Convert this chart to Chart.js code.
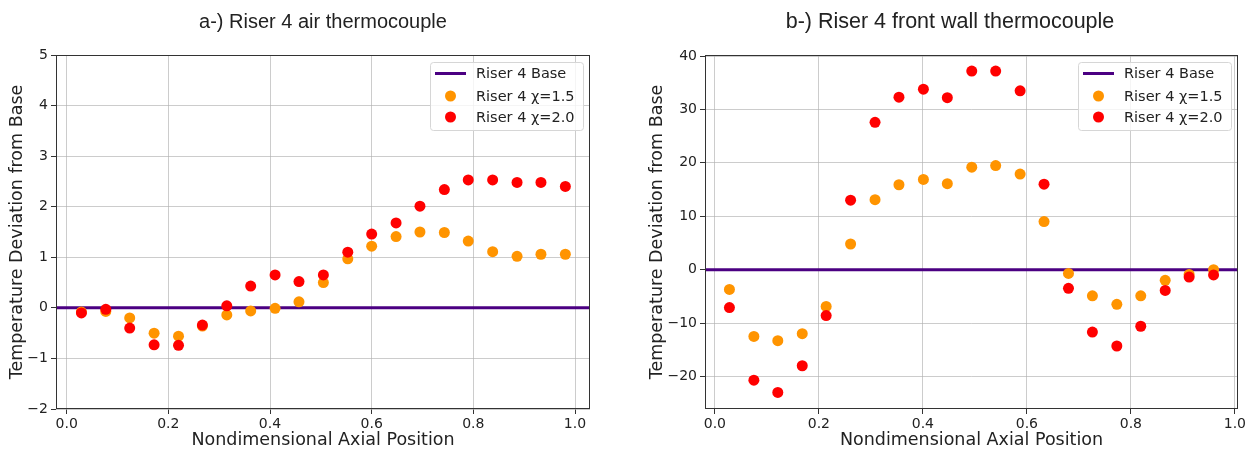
<!DOCTYPE html>
<html>
<head>
<meta charset="utf-8">
<script src="https://cdn.jsdelivr.net/npm/chart.js@4.4.0/dist/chart.umd.min.js"></script>
<style>
body { margin: 0; background: #fff; width: 1254px; height: 450px; overflow: hidden; position: relative; }
canvas { position: absolute; top: 0; }
#graficoA { left: 0; }
#graficoB { left: 646px; }
</style>
</head>
<body>
<canvas id="graficoA" width="646" height="450"></canvas>
<canvas id="graficoB" width="608" height="450"></canvas>
<script>
// a-) air thermocouple
const xPosA = [0.029, 0.077, 0.124, 0.172, 0.220, 0.267, 0.315, 0.362, 0.410, 0.457, 0.505,
               0.553, 0.600, 0.648, 0.695, 0.743, 0.790, 0.838, 0.886, 0.933, 0.981];
const air15 = [-0.08, -0.07, -0.20, -0.50, -0.56, -0.36, -0.14, -0.06, -0.01, 0.12, 0.50,
               0.97, 1.22, 1.41, 1.50, 1.49, 1.32, 1.11, 1.02, 1.06, 1.06];
const air20 = [-0.10, -0.03, -0.40, -0.73, -0.74, -0.34, 0.04, 0.43, 0.65, 0.52, 0.65,
               1.10, 1.46, 1.68, 2.01, 2.34, 2.53, 2.53, 2.48, 2.48, 2.40];

// b-) front wall thermocouple
const xPosB = [0.028, 0.075, 0.121, 0.168, 0.214, 0.261, 0.308, 0.354, 0.401, 0.447, 0.494,
               0.540, 0.587, 0.633, 0.680, 0.726, 0.773, 0.819, 0.866, 0.912, 0.959];
const wall15 = [-3.7, -12.5, -13.3, -12.0, -6.9, 4.8, 13.1, 15.9, 16.9, 16.1, 19.2,
                19.5, 17.9, 9.0, -0.7, -4.9, -6.5, -4.9, -2.0, -0.9, 0.0];
const wall20 = [-7.1, -20.7, -23.0, -18.0, -8.6, 13.0, 27.6, 32.3, 33.8, 32.2, 37.2,
                37.2, 33.5, 16.0, -3.5, -11.7, -14.3, -10.6, -3.9, -1.4, -1.0];

const baseValue = 0;

const xTicks = [0.0, 0.2, 0.4, 0.6, 0.8, 1.0];
const yTicksA = [-2, -1, 0, 1, 2, 3, 4, 5];
const yTicksB = [-20, -10, 0, 10, 20, 30, 40];

const nomes = ["Riser 4 Base", "Riser 4 χ=1.5", "Riser 4 χ=2.0"];
const cores = ["#4b0082", "#ff9400", "#ff0000"];

function pontos(xs, ys) {
    return xs.map((x, i) => ({ x: x, y: ys[i] }));
}

function menos(v) {
    return v < 0 ? "\u2212" + Math.abs(v) : String(v);
}

// caixa em volta da área do gráfico
const moldura = {
    id: "moldura",
    afterDatasetsDraw(chart) {
        const a = chart.chartArea;
        const ctx = chart.ctx;
        ctx.save();
        ctx.strokeStyle = "#333";
        ctx.lineWidth = 1;
        ctx.strokeRect(Math.round(a.left) + 0.5, Math.round(a.top) + 0.5,
                       Math.round(a.right - a.left) - 1, Math.round(a.bottom - a.top) - 1);
        ctx.restore();
    }
};

// legenda no canto superior direito, dentro da área
const legendaDentro = {
    id: "legendaDentro",
    afterDraw(chart) {
        const a = chart.chartArea;
        const ctx = chart.ctx;
        const w = 153, h = 68;
        const x0 = a.right - 7 - w;
        const y0 = a.top + 7;
        ctx.save();
        ctx.fillStyle = "rgba(255,255,255,0.8)";
        ctx.strokeStyle = "#d6d6d6";
        ctx.lineWidth = 1;
        ctx.beginPath();
        ctx.roundRect(x0 + 0.5, y0 + 0.5, w, h, 3);
        ctx.fill();
        ctx.stroke();

        const linhas = [11.5, 34, 55];
        chart.data.datasets.forEach((ds, i) => {
            const y = y0 + linhas[i];
            if (ds.type === "line") {
                ctx.strokeStyle = ds.borderColor;
                ctx.lineWidth = 3;
                ctx.beginPath();
                ctx.moveTo(x0 + 5, y);
                ctx.lineTo(x0 + 36, y);
                ctx.stroke();
            } else {
                ctx.fillStyle = ds.backgroundColor;
                ctx.beginPath();
                ctx.arc(x0 + 20.5, y, 5.5, 0, Math.PI * 2);
                ctx.fill();
            }
            ctx.fillStyle = "#222";
            ctx.font = '14.5px "DejaVu Sans"';
            ctx.textBaseline = "middle";
            ctx.fillText(ds.label, x0 + 46, y + 1);
        });
        ctx.restore();
    }
};

function criarGrafico(id, titulo, tamTitulo, xs, s15, s20, xmin, xmax, ymin, ymax, yTicks, larguraY, larguraDir, padTituloY) {
    const ctx = document.getElementById(id).getContext("2d");
    const fonteTick = { family: "DejaVu Sans", size: 14 };
    const fonteEixo = { family: "DejaVu Sans", size: 17.5 };

    return new Chart(ctx, {
        type: "scatter",
        data: {
            datasets: [
                {
                    type: "line",
                    label: nomes[0],
                    data: [{ x: xmin, y: baseValue }, { x: xmax, y: baseValue }],
                    borderColor: cores[0],
                    backgroundColor: cores[0],
                    borderWidth: 3,
                    pointRadius: 0,
                    fill: false,
                    order: 3
                },
                {
                    label: nomes[1],
                    data: pontos(xs, s15),
                    backgroundColor: cores[1],
                    borderColor: cores[1],
                    pointRadius: 5.5,
                    pointBorderWidth: 0,
                    order: 2
                },
                {
                    label: nomes[2],
                    data: pontos(xs, s20),
                    backgroundColor: cores[2],
                    borderColor: cores[2],
                    pointRadius: 5.5,
                    pointBorderWidth: 0,
                    order: 1
                }
            ]
        },
        options: {
            responsive: false,
            animation: false,
            events: [],
            layout: { padding: 0 },
            plugins: {
                legend: { display: false },
                tooltip: { enabled: false },
                title: {
                    display: true,
                    text: titulo,
                    color: "#222",
                    font: { family: "Liberation Sans", size: tamTitulo, weight: "normal", lineHeight: 24 / tamTitulo },
                    padding: { top: 10, bottom: 21 }
                }
            },
            scales: {
                x: {
                    type: "linear",
                    min: xmin,
                    max: xmax,
                    afterBuildTicks: s => { s.ticks = xTicks.map(v => ({ value: v })); },
                    afterFit: s => { s.height = 41; },
                    grid: { color: "rgba(176,176,176,0.65)", tickColor: "#333", tickLength: 5 },
                    border: { display: false },
                    ticks: {
                        autoSkip: false, maxRotation: 0, padding: 2,
                        color: "#222", font: fonteTick,
                        callback: v => v.toFixed(1)
                    },
                    title: {
                        display: true, text: "Nondimensional Axial Position",
                        color: "#222", font: fonteEixo, padding: { top: 0, bottom: -1 }
                    }
                },
                y: {
                    type: "linear",
                    min: ymin,
                    max: ymax,
                    afterBuildTicks: s => { s.ticks = yTicks.map(v => ({ value: v })); },
                    afterFit: s => { s.width = larguraY; },
                    grid: { color: "rgba(176,176,176,0.65)", tickColor: "#333", tickLength: 5 },
                    border: { display: false },
                    ticks: {
                        autoSkip: false, padding: 3,
                        color: "#222", font: fonteTick,
                        callback: v => menos(v)
                    },
                    title: {
                        display: true, text: "Temperature Deviation from Base",
                        color: "#222", font: fonteEixo, padding: { top: padTituloY, bottom: 0 }
                    }
                },
                yDir: {
                    type: "linear",
                    position: "right",
                    grid: { display: false },
                    border: { display: false },
                    ticks: { display: false },
                    afterFit: s => { s.width = larguraDir; }
                }
            }
        },
        plugins: [moldura, legendaDentro]
    });
}

criarGrafico("graficoA", "a-) Riser 4 air thermocouple", 20, xPosA, air15, air20,
             -0.021, 1.0295, -2, 5, yTicksA, 56, 56, 7);
criarGrafico("graficoB", "b-) Riser 4 front wall thermocouple", 21.5, xPosB, wall15, wall20,
             -0.019, 1.006, -26.1, 40.2, yTicksB, 59, 16, 1);
</script>
</body>
</html>
